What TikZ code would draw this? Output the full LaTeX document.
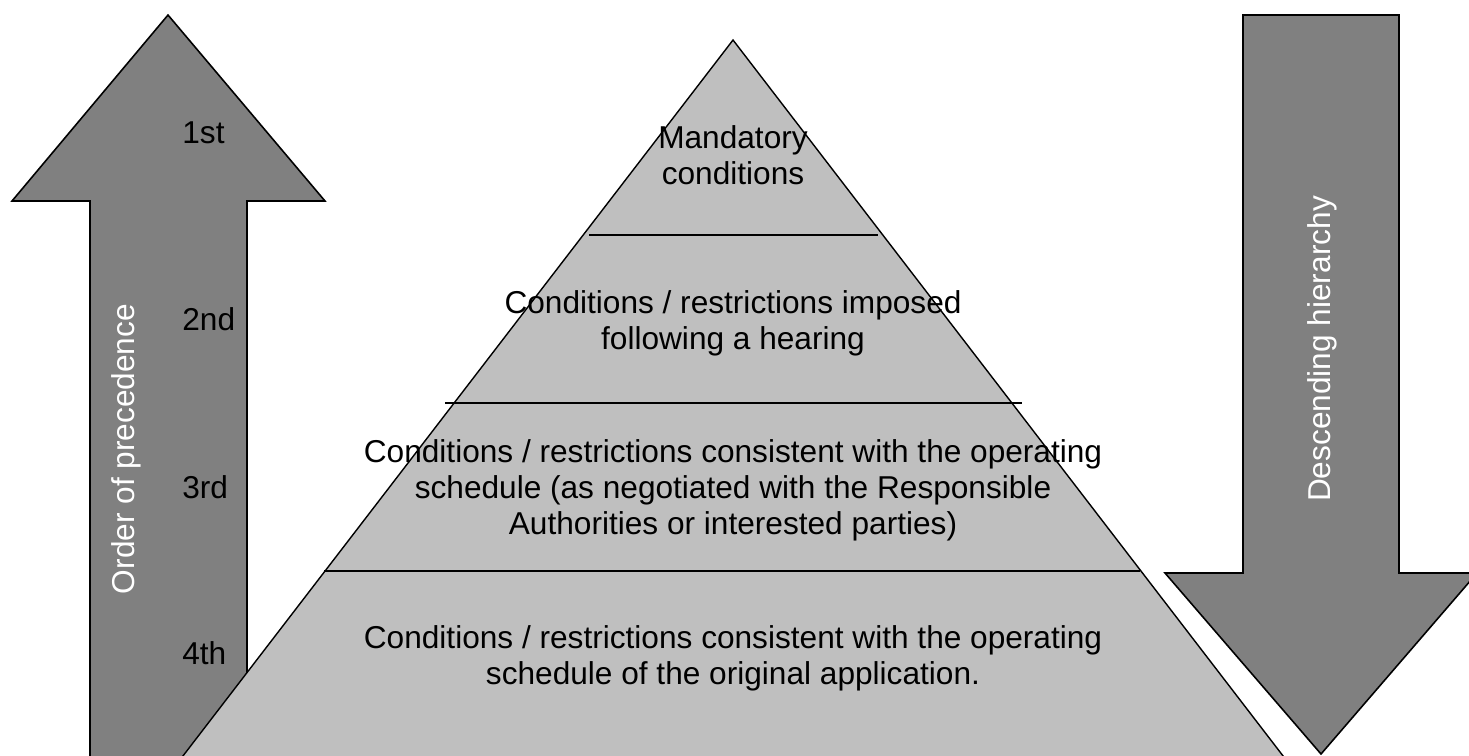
\documentclass[tikz,border=0pt]{standalone}
\usepackage{fontspec}
\setmainfont{Liberation Sans}
\usetikzlibrary{positioning}

\begin{document}
\begin{tikzpicture}[
    x=0.02cm, y=-0.02cm,
    bigarrow/.style={
        draw=black,
        line width=0.9pt,
        fill=gray
    },
    layer/.style={
        draw=black,
        line width=0.8pt,
        fill=lightgray
    },
    rank/.style={
        anchor=west,
        inner sep=0pt,
        font=\fontsize{18pt}{20.5pt}\selectfont
    },
    tier/.style={
        align=center,
        inner sep=0pt,
        font=\fontsize{18pt}{20.5pt}\selectfont
    },
    side/.style={
        rotate=90,
        text=white,
        inner sep=0pt,
        font=\fontsize{18pt}{20.5pt}\selectfont
    }
]
\useasboundingbox (0,0) rectangle (1469,755);
\clip (0,0) rectangle (1469,755);

\draw[bigarrow] (90,780) -- (90,201) -- (12,201) -- (168,15) -- (325,201) -- (247,201) -- (247,780) -- cycle;
\draw[bigarrow] (1243,15) -- (1399,15) -- (1399,573) -- (1477,573) -- (1321,754) -- (1165,573) -- (1243,573) -- cycle;

\draw[layer] (733,40) -- (1290,765) -- (176,765) -- cycle;
\draw[line width=0.8pt] (589,235) -- (878,235);
\draw[line width=0.8pt] (445,403) -- (1022,403);
\draw[line width=0.8pt] (324,571) -- (1140,571);

\node [side] (prec) at (126,449) {Order of precedence};
\node [side] (desc) at (1322,349) {Descending hierarchy};

\node [rank] (r1) at (182,133) {1st};
\node [rank] (r2) at (182,319) {2nd};
\node [rank] (r3) at (182,487) {3rd};
\node [rank] (r4) at (182,653) {4th};

\node [tier] (t1) at (733,155) {Mandatory\\conditions};
\node [tier] (t2) at (733,323) {Conditions / restrictions imposed\\following a hearing};
\node [tier] (t3) at (733,490) {Conditions / restrictions consistent with the operating\\schedule (as negotiated with the Responsible\\Authorities or interested parties)};
\node [tier] (t4) at (733,658) {Conditions / restrictions consistent with the operating\\schedule of the original application.};
\end{tikzpicture}
\end{document}
